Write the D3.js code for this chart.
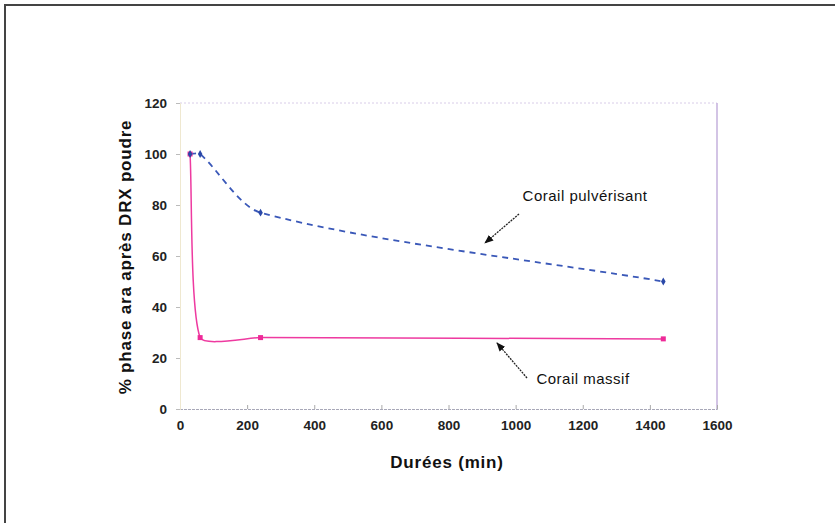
<!DOCTYPE html>
<html>
<head>
<meta charset="utf-8">
<script src="https://cdn.jsdelivr.net/npm/d3@7"></script>
<style>
  body { margin: 0; background: #fff; }
  text { font-family: "Liberation Sans", Arial, sans-serif; }
</style>
</head>
<body>
<div class="chart"></div>
<script>
// data
var durees = [30, 60, 240, 1440];
var pulverisant = [100, 100, 77, 50];
var massif = [100, 28, 28, 27.5];
var xTicks = [0, 200, 400, 600, 800, 1000, 1200, 1400, 1600];
var yTicks = [0, 20, 40, 60, 80, 100, 120];

var svgWidth = 835, svgHeight = 523;
var margin = {top: 103, right: 118, bottom: 114, left: 180};
var width = svgWidth - margin.left - margin.right;
var height = svgHeight - margin.top - margin.bottom;

var svg = d3.select(".chart").append("svg").attr("width", svgWidth).attr("height", svgHeight);

// outer frame (top and left edges)
svg.append("path").attr("d", "M5,523 L5,5 L835,5").attr("fill", "none").attr("stroke", "#444").attr("stroke-width", 2);

var chartGroup = svg.append("g").attr("transform", `translate(${margin.left}, ${margin.top})`);

var x = d3.scaleLinear().domain([0, 1600]).range([0, width]);
var y = d3.scaleLinear().domain([0, 120]).range([height, 0]);

// plot area border
chartGroup.append("line").attr("x1", 0).attr("x2", width).attr("y1", 0).attr("y2", 0)
  .attr("stroke", "#d8cce8").attr("stroke-dasharray", "2,2");
chartGroup.append("line").attr("x1", width).attr("x2", width).attr("y1", 0).attr("y2", height)
  .attr("stroke", "#c4b0dc").attr("stroke-width", 1.5);

// axes
var bottomAxis = d3.axisBottom(x).tickValues(xTicks).tickFormat(d3.format("d")).tickSize(-4).tickPadding(10);
var leftAxis = d3.axisLeft(y).tickValues(yTicks).tickFormat(d3.format("d")).tickSize(4).tickPadding(9);
var gx = chartGroup.append("g").attr("transform", `translate(0, ${height})`).call(bottomAxis);
var gy = chartGroup.append("g").call(leftAxis);
gx.select(".domain").attr("stroke", "#a8a8b8").attr("stroke-dasharray", "3,1");
gy.select(".domain").attr("stroke", "#efe8d0");
gx.selectAll(".tick line").attr("stroke", "#aaa");
gy.selectAll(".tick line").attr("stroke", "#bbb");
gx.selectAll("text").attr("font-size", 13.5).attr("fill", "#222").attr("font-weight", "bold").attr("dy", "0.85em");
gy.selectAll("text").attr("font-size", 13.5).attr("fill", "#222").attr("font-weight", "bold");

// smoothed line like the spreadsheet one (bezier, tangents weighted by segment length)
function smoothPath(xs, ys, k) {
  var pts = xs.map((d, i) => [x(d), y(ys[i])]);
  var n = pts.length, p = d3.path();
  var dist = (a, b) => Math.hypot(b[0] - a[0], b[1] - a[1]);
  p.moveTo(pts[0][0], pts[0][1]);
  for (var i = 0; i < n - 1; i++) {
    var p0 = pts[Math.max(i - 1, 0)], p1 = pts[i], p2 = pts[i + 1], p3 = pts[Math.min(i + 2, n - 1)];
    var d01 = dist(p0, p1), d12 = dist(p1, p2), d23 = dist(p2, p3);
    var w1 = d12 / (d01 + d12), w2 = d12 / (d12 + d23);
    var c1x = p1[0] + (p2[0] - p0[0]) * w1 * k, c1y = p1[1] + (p2[1] - p0[1]) * w1 * k;
    var c2x = p2[0] - (p3[0] - p1[0]) * w2 * k, c2y = p2[1] - (p3[1] - p1[1]) * w2 * k;
    c1x = Math.min(Math.max(c1x, p1[0]), p2[0]);
    c2x = Math.min(Math.max(c2x, p1[0]), p2[0]);
    p.bezierCurveTo(c1x, c1y, c2x, c2y, p2[0], p2[1]);
  }
  return p.toString();
}

var bluePts = durees.map((d, i) => [d, pulverisant[i]]);
var pinkPts = durees.map((d, i) => [d, massif[i]]);

chartGroup.append("path").attr("d", smoothPath(durees, massif, 0.2)).attr("fill", "none")
  .attr("stroke", "#ee3aa0").attr("stroke-width", 1.5);
chartGroup.append("path").attr("d", smoothPath(durees, pulverisant, 0.27)).attr("fill", "none")
  .attr("stroke", "#3a58b8").attr("stroke-width", 1.8).attr("stroke-dasharray", "6,5");

chartGroup.selectAll(".pm").data(pinkPts).enter().append("rect")
  .attr("x", d => x(d[0]) - 2.5).attr("y", d => y(d[1]) - 2.5).attr("width", 5).attr("height", 5)
  .attr("fill", "#ee2a98");
chartGroup.selectAll(".bm").data(bluePts).enter().append("path")
  .attr("transform", d => `translate(${x(d[0])}, ${y(d[1])})`)
  .attr("d", d3.symbol().type(d3.symbolDiamond).size(18))
  .attr("fill", "#2a48a8");

// annotations with arrows
svg.append("defs").append("marker").attr("id", "arr").attr("viewBox", "0 0 10 10")
  .attr("refX", 9).attr("refY", 5).attr("markerWidth", 7).attr("markerHeight", 7).attr("orient", "auto")
  .append("path").attr("d", "M0,1 L10,5 L0,9 z").attr("fill", "#111");
svg.append("line").attr("x1", 519).attr("y1", 214).attr("x2", 485).attr("y2", 243)
  .attr("stroke", "#222").attr("stroke-width", 1.3).attr("stroke-dasharray", "2,1").attr("marker-end", "url(#arr)");
svg.append("line").attr("x1", 527).attr("y1", 378).attr("x2", 497).attr("y2", 343)
  .attr("stroke", "#222").attr("stroke-width", 1.3).attr("stroke-dasharray", "2,1").attr("marker-end", "url(#arr)");
svg.append("text").attr("x", 585).attr("y", 201).attr("text-anchor", "middle")
  .attr("font-size", 15).attr("letter-spacing", 0.5).attr("fill", "#111").text("Corail pulvérisant");
svg.append("text").attr("x", 583).attr("y", 384).attr("text-anchor", "middle")
  .attr("font-size", 15).attr("letter-spacing", 0.5).attr("fill", "#111").text("Corail massif");

// axis titles
svg.append("text").attr("transform", "translate(131, 257) rotate(-90)").attr("text-anchor", "middle")
  .attr("font-size", 17).attr("letter-spacing", 0.8).attr("font-weight", "bold").attr("fill", "#111")
  .text("% phase ara après DRX poudre");
svg.append("text").attr("x", 447).attr("y", 468).attr("text-anchor", "middle")
  .attr("font-size", 17).attr("letter-spacing", 0.8).attr("font-weight", "bold").attr("fill", "#111")
  .text("Durées (min)");
</script>
</body>
</html>
